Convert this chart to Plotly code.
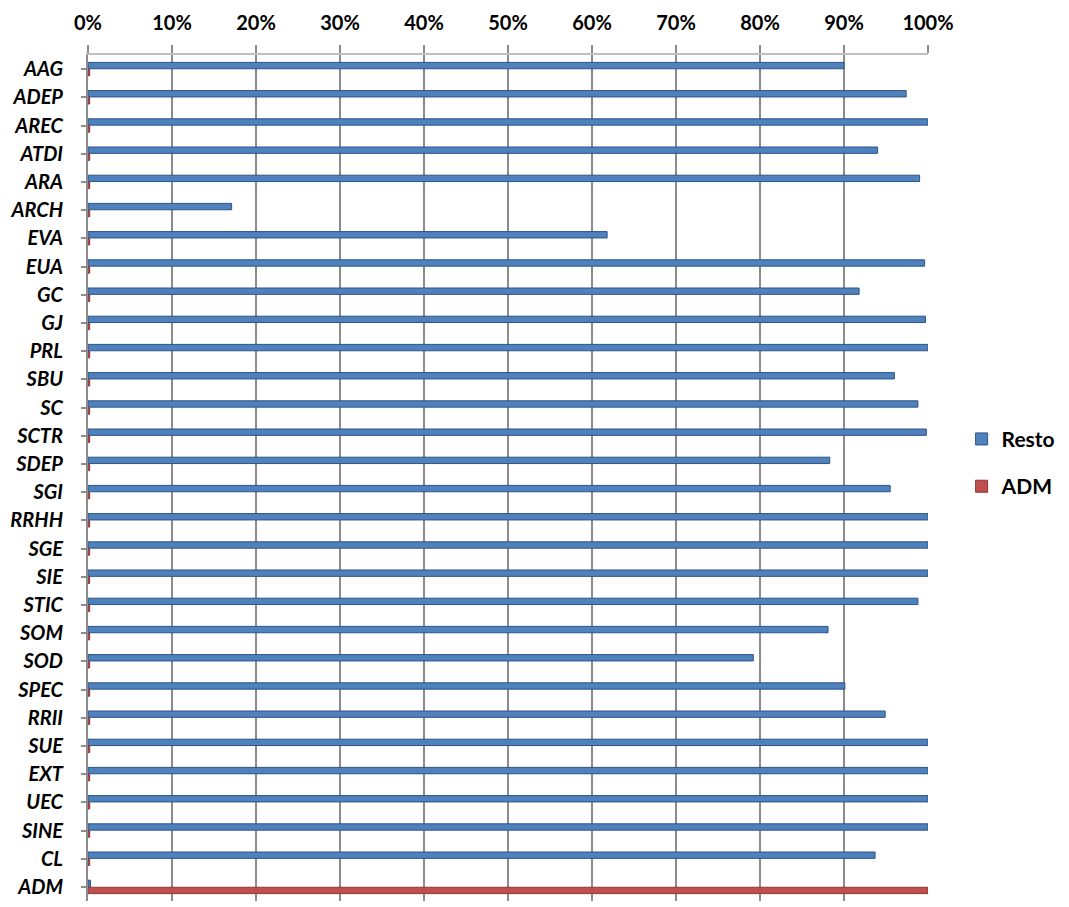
import plotly.graph_objects as go

categories = ["AAG", "ADEP", "AREC", "ATDI", "ARA", "ARCH", "EVA", "EUA", "GC", "GJ",
              "PRL", "SBU", "SC", "SCTR", "SDEP", "SGI", "RRHH", "SGE", "SIE", "STIC",
              "SOM", "SOD", "SPEC", "RRII", "SUE", "EXT", "UEC", "SINE", "CL", "ADM"]

resto = [0.900, 0.974, 1.000, 0.940, 0.990, 0.171, 0.618, 0.996, 0.918, 0.997,
         1.000, 0.960, 0.988, 0.998, 0.883, 0.955, 1.000, 1.000, 1.000, 0.988,
         0.881, 0.792, 0.901, 0.949, 1.000, 1.000, 1.000, 1.000, 0.937, 0.003]

adm = [0.002, 0.002, 0.002, 0.002, 0.002, 0.002, 0.002, 0.002, 0.002, 0.002,
       0.002, 0.002, 0.002, 0.002, 0.002, 0.002, 0.002, 0.002, 0.002, 0.002,
       0.002, 0.002, 0.002, 0.002, 0.002, 0.002, 0.002, 0.002, 0.002, 1.000]

x_ticks = [0, 0.1, 0.2, 0.3, 0.4, 0.5, 0.6, 0.7, 0.8, 0.9, 1.0]
x_tick_labels = ["0%", "10%", "20%", "30%", "40%", "50%", "60%", "70%", "80%", "90%", "100%"]

FONT = "Lato"

fig = go.Figure()
fig.add_trace(go.Bar(
    y=categories, x=resto, orientation="h", name="Resto",
    marker=dict(color="#4F81BD", line=dict(color="#2E5387", width=1)),
    legendgroup="a",
))
fig.add_trace(go.Bar(
    y=categories, x=adm, orientation="h", name="ADM",
    marker=dict(color="#C0504D", line=dict(color="#8C3836", width=1)),
    legendgroup="b",
))

fig.update_layout(
    width=1069, height=907,
    margin=dict(l=80, r=149, t=47, b=14, autoexpand=False),
    paper_bgcolor="white", plot_bgcolor="white",
    barmode="group", bargap=0.5, bargroupgap=0.1,
    font=dict(family=FONT, color="black"),
    legend=dict(
        x=1.04, y=0.518, xanchor="left", yanchor="middle",
        font=dict(family=FONT, size=21, color="black", weight="bold"),
        tracegroupgap=17, itemwidth=30,
    ),
    showlegend=True,
)

fig.update_xaxes(
    side="top", range=[0, 1.0], tickvals=x_ticks, ticktext=x_tick_labels,
    showgrid=True, gridcolor="#8C8C8C", gridwidth=2,
    zeroline=False, automargin=False,
    ticks="outside", ticklen=8, tickcolor="#8C8C8C", tickwidth=2,
    tickfont=dict(family=FONT, size=20, color="black", weight="bold"),
    ticklabelstandoff=7,
    showline=True, linecolor="#BFBFBF", linewidth=2, mirror=False,
)
fig.update_yaxes(
    autorange="reversed", type="category", automargin=False,
    showgrid=False,
    ticks="outside", ticklen=5, tickcolor="#8C8C8C", tickwidth=2,
    tickfont=dict(family=FONT, size=20, color="black", weight="bold", style="italic"),
    ticklabelstandoff=14,
    showline=True, linecolor="#8C8C8C", linewidth=2,
)

fig.write_html("out.html")
